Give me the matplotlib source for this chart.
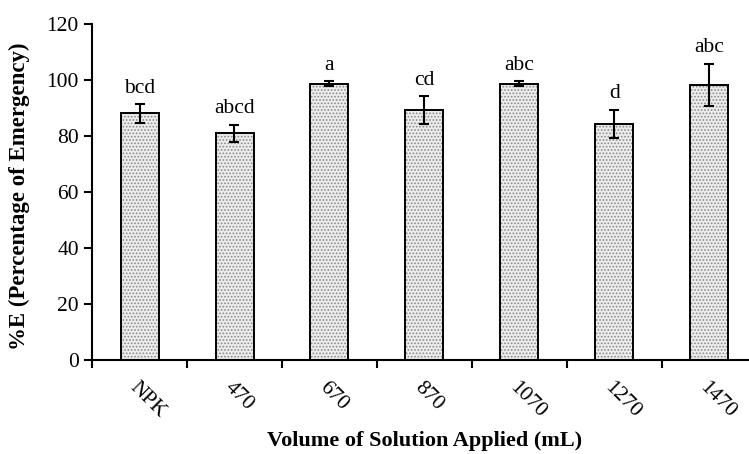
import numpy as np
import matplotlib
matplotlib.use('Agg')
import matplotlib.pyplot as plt

# data
volumes = ['NPK', '470', '670', '870', '1070', '1270', '1470']
emergency = [88.1, 80.9, 98.7, 89.3, 98.6, 84.4, 98.2]
errors = [3.3, 3.1, 0.8, 5.0, 0.9, 5.0, 7.6]
letters = ['bcd', 'abcd', 'a', 'cd', 'abc', 'd', 'abc']

plt.rcParams['font.family'] = ['Liberation Serif', 'DejaVu Serif']
plt.rcParams['hatch.linewidth'] = 0.8

fig = plt.figure(figsize=(7.49, 4.54), dpi=100)
ax = fig.add_axes([92 / 749, 94 / 454, 665 / 749, 336 / 454])

x = np.arange(len(volumes))
# dotted fill, then black outline on top
ax.bar(x, emergency, width=0.4, color='#ececec', edgecolor='#8a8a8a',
       hatch='.....', linewidth=0, zorder=2)
ax.bar(x, emergency, width=0.4, fill=False, edgecolor='black',
       linewidth=1.4, zorder=3)
ax.errorbar(x, emergency, yerr=errors, fmt='none', ecolor='black',
            elinewidth=1.5, capsize=3.8, capthick=1.5, zorder=4)

for xi, m, e, lab in zip(x, emergency, errors, letters):
    ax.text(xi, m + e + 2.3, lab, ha='center', va='bottom', fontsize=15.5)

ax.set_xlim(-0.5, len(volumes) - 0.5)
ax.set_ylim(0, 120)
ax.set_yticks(np.arange(0, 121, 20))
ax.set_xticks(x)
ax.set_xticklabels(volumes, rotation=-45, ha='left', va='top',
                   rotation_mode='anchor', fontsize=15.5)
ax.set_xticks(np.arange(-0.5, len(volumes), 1), minor=True)
ax.tick_params(axis='x', which='major', length=0, pad=13)
ax.tick_params(axis='x', which='minor', length=6, width=1.5, direction='out')
ax.tick_params(axis='y', labelsize=15.5, length=6, width=1.5, direction='out')

for s in ['top', 'right']:
    ax.spines[s].set_visible(False)
for s in ['left', 'bottom']:
    ax.spines[s].set_linewidth(1.5)

ax.set_xlabel('Volume of Solution Applied (mL)', fontsize=16,
              fontweight='bold')
ax.set_ylabel('%E (Percentage of Emergency)', fontsize=16.5,
              fontweight='bold')
ax.xaxis.set_label_coords((425 - 92) / 665, -(431 - 360) / 336)
ax.yaxis.set_label_coords(-(92 - 30) / 665, (360 - 196) / 336)

fig.savefig('out.png', dpi=100)
